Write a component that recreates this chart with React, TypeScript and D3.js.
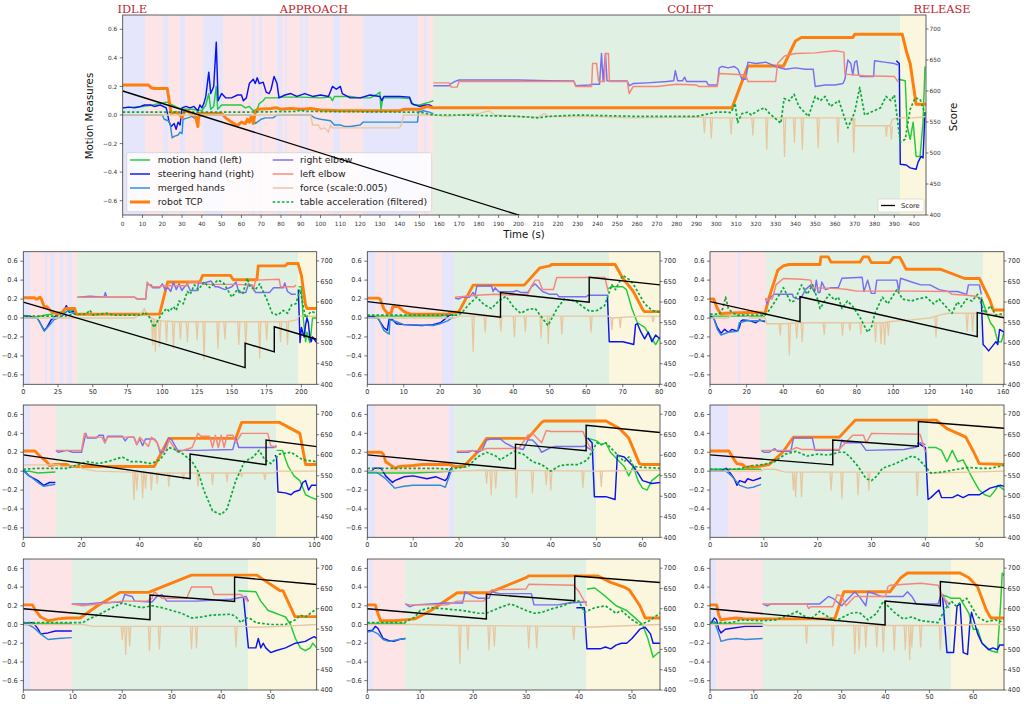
import React from 'react';
import * as d3 from 'd3';

// ---------------- shared definitions ----------------
const PHASE_NAMES = ['IDLE', 'APPROACH', 'COLIFT', 'RELEASE'];
const PHASE_COLORS = ['#e5e5fb', '#fde4e6', '#e0f0e3', '#faf7de'];
const SERIES_LABELS = ['motion hand (left)', 'steering hand (right)', 'merged hands', 'robot TCP', 'right elbow', 'left elbow', 'force (scale:0.005)', 'table acceleration (filtered)'];
const Y_TICKS = [-0.6, -0.4, -0.2, 0, 0.2, 0.4, 0.6];
const SCORE_TICKS = [400, 450, 500, 550, 600, 650, 700];
const Y_DOMAIN = [-0.7, 0.7];
const SCORE_DOMAIN = [400, 722.5];

// ---------------- main panel (full session) ----------------
const P0_XMAX = 406;
const P0_XTICKS = d3.range(0, 401, 10);
const P0_PHASES = [[0,11.3,0],[11.3,20.5,1],[20.5,22.7,0],[22.7,28.9,1],[28.9,31.5,0],[31.5,40.4,1],[40.4,50.5,0],[50.5,65.1,1],[65.1,66.8,0],[66.8,69,1],[69,70.2,0],[70.2,77.8,1],[77.8,80.3,0],[80.3,82,1],[82,83,0],[83,89.5,1],[89.5,90.9,0],[90.9,92,1],[92,93.7,0],[93.7,106.4,1],[106.4,109.7,0],[109.7,121.5,1],[121.5,149.3,0],[149.3,152.2,1],[152.2,153.8,0],[153.8,156.6,1],[156.6,393,2],[393,406,3]];
const P0_MOTION = [0,0.05, 5,0.055, 10,0.06, 15,0.07, 20,0.085, 23,0.09, 25,0.07, 28,0.05, 30,0.04, 35,0.04, 40,0.03, 42,0.07, 43.5,0.15, 44.5,0.04, 46,0.06, 47.3,0.2, 48,0.04, 50,0.07, 55,0.07, 60,0.07, 62,0.05, 64,0.06, 66,0.03, 68,0.04, 69,0.08, 71,0.1, 72,0.12, 78,0.12, 80,0.125, 90,0.125, 100,0.12, 105,0.125, 106,0.1, 107,0.13, 115,0.13, 120,0.12, 125,0.12, 128,0.14, 130,0.16, 130.5,0.04, 131.5,0.12, 140,0.12, 145,0.115, 147,0.07, 150,0.07, 155,0.09, 157,0.1, NaN,NaN, 392,0.25, 395.5,0.24, 396.5,-0.08, 398,-0.17, 399.5,-0.05, 401,-0.29, 403,-0.29, 404.5,-0.05, 405.5,0.34];
const P0_STEER = [0,0.05, 3,0.055, 6,0.05, 9,0.06, 11,0.07, 14,0.07, 16,0.06, 19,0.07, 22,0.05, 23.5,-0.05, 24.5,-0.08, 26,-0.06, 27,-0.1, 28,-0.05, 29,-0.07, 30,0.05, 32,0.06, 34,0.05, 36,0.06, 38,0.03, 39,0.07, 40,0.05, 41,0.08, 42,0.13, 43.5,0.3, 44.5,0.15, 46,0.2, 47.3,0.51, 48.2,0.1, 50,0.15, 52,0.12, 55,0.12, 58,0.14, 60,0.14, 61,0.1, 62.5,0.12, 64,0.22, 66,0.25, 67,0.22, 68,0.26, 69,0.22, 71,0.23, 72.5,0.16, 74,0.15, 75,0.18, 76.5,0.27, 78,0.22, 79,0.12, 82,0.14, 85,0.15, 88,0.13, 92,0.15, 96,0.13, 100,0.14, 104,0.13, 106,0.2, 108,0.18, 110,0.2, 111,0.15, 115,0.12, 120,0.12, 125,0.14, 130,0.13, 131,0.1, 132,0.13, 140,0.13, 145,0.125, 146,0.08, 150,0.06, 153,0.07, 155,0.07, 156.5,0.06, NaN,NaN, 391,0.38, 392.5,0.36, 393,-0.345, 396,-0.35, 398,-0.37, 401,-0.38, 402,-0.33, 403.5,-0.29, 404.5,-0.3, 405.5,0.02];
const P0_MERGED = [0,0.0, 20,0.0, 21,-0.03, 23,-0.04, 24,-0.06, 25,-0.16, 26,-0.15, 28,-0.14, 29,-0.12, 30,-0.13, 30.5,-0.03, 33,-0.02, 35,-0.01, 37,-0.03, 38,-0.02, 40,0.0, 65,0.0, 66,-0.02, 67,-0.06, 68,-0.05, 70,-0.03, 72,-0.02, 76,-0.02, 78,0.0, 95,0.0, 97,-0.02, 100,-0.03, 105,-0.04, 107,-0.07, 110,-0.07, 112,-0.08, 115,-0.08, 120,-0.07, 121.5,-0.05, 149,-0.05, 149.5,0.02, 152,0.03, 155,0.02, 157,0.01];
const P0_TCP = [0,0.21, 13,0.21, 14.5,0.19, 16,0.185, 22.5,0.185, 23.5,0.1, 24.5,0.01, 27,0.02, 29,0.0, 30,-0.02, 31,0.02, 33,0.03, 35,0.0, 36,0.01, 37,-0.02, 38,-0.08, 38.5,0.01, 40,0.01, 50,0.01, 52,-0.02, 55,-0.05, 58,-0.075, 60,-0.05, 62,-0.06, 63,-0.03, 64,-0.05, 65,-0.01, 66,-0.06, 67,0.02, 68,0.04, 75,0.045, 78,0.05, 80,0.04, 85,0.045, 90,0.04, 95,0.045, 100,0.035, 110,0.03, 140,0.03, 142,0.04, 150,0.04, 154,0.06, 157,0.05, 308,0.05, 316,0.343, 334,0.343, 340,0.518, 343,0.542, 369,0.542, 370,0.565, 394,0.565, 396,0.45, 398,0.36, 401,0.075, 406,0.075];
const P0_RELBOW = [157,0.205, 165,0.205, 166,0.22, 168,0.235, 170,0.245, 200,0.245, 215,0.24, 228,0.238, 229,0.205, 236,0.21, 237,0.215, 241,0.215, 242,0.43, 242.8,0.24, 244,0.43, 244.8,0.24, 255,0.238, 256,0.205, 258,0.22, 265,0.225, 275,0.235, 278.5,0.24, 279.3,0.31, 280.5,0.24, 283,0.24, 284,0.265, 285,0.235, 295,0.235, 296,0.21, 300.5,0.21, 301.5,0.33, 303,0.34, 306,0.33, 309,0.34, 311,0.32, 313,0.25, 315,0.25, 316,0.37, 320,0.36, 325,0.37, 330,0.34, 335,0.32, 340,0.33, 345,0.32, 349,0.32, 350,0.2, 355,0.21, 360,0.21, 364,0.22, 365,0.25, 366.5,0.385, 368,0.36, 369,0.28, 370,0.37, 371,0.38, 372,0.28, 373,0.27, 379.5,0.27, 380,0.38, 385,0.37, 390,0.36, 392,0.35];
const P0_LELBOW = [157,0.225, 165,0.225, 166,0.195, 169,0.195, 170,0.235, 200,0.235, 228,0.235, 229,0.2, 237,0.2, 237.5,0.36, 239.5,0.36, 240.5,0.235, 243.5,0.235, 244,0.43, 245.5,0.43, 246,0.235, 255,0.235, 256,0.15, 258,0.2, 270,0.2, 280,0.215, 290,0.21, 291,0.2, 300.5,0.2, 301.5,0.29, 315,0.28, 316,0.235, 330,0.235, 331,0.36, 334.5,0.413, 340,0.43, 350,0.435, 360,0.45, 364.5,0.44, 365,0.286, 375,0.275, 390,0.27, 392,0.23];
const P0_FORCE = [0,0.0, 95,0.0, 96,-0.07, 99,-0.07, 100,-0.1, 102,-0.09, 104,-0.12, 105,-0.07, 106,-0.09, 140,-0.09, 141,-0.06, 142,0.0, 157,0.0, 165,-0.01, 170,0.0, 180,0.01, 185,0.03, 188,0.0, 200,-0.01, 210,-0.015, 213,0.01, 215,-0.01, 240,-0.01, 256,-0.02, 290,-0.015, 300,-0.02, 369,-0.02, 370,-0.075, 388,-0.075, 389,-0.03, 392,-0.02, 400,-0.02, 406,-0.01];
const P0_SPIKES = [[294,-0.02,-0.124],[297.5,-0.02,-0.16],[307.5,-0.02,-0.135],[318.5,-0.02,-0.14],[325.5,-0.02,-0.24],[334.5,-0.02,-0.29],[339.5,-0.02,-0.19],[343.5,-0.02,-0.24],[351.5,-0.02,-0.23],[361.5,-0.02,-0.19],[369.5,-0.02,-0.26],[386,-0.075,-0.15],[388.5,-0.075,-0.17]];
const P0_ACCEL = [0,0.02, 20,0.02, 40,0.02, 60,0.02, 88,0.025, 90,0.035, 92,0.025, 150,0.02, 157,0.0, 170,0.0, 200,-0.01, 210,-0.02, 215,-0.01, 230,0.0, 260,-0.01, 290,-0.01, 300,0.02, 305,0.02, 307.5,0.017, 309.5,0.082, 310.8,-0.054, 313,0.01, 316,0.02, 317.7,0.0, 321,0.03, 324.4,0.05, 327,0.01, 332.6,-0.058, 334.3,0.115, 337,0.1, 339.3,0.145, 341.8,0.06, 346.6,-0.01, 350,0.13, 352.6,0.1, 355,0.13, 357.6,0.06, 362,0.1, 366.5,-0.09, 369.9,0.017, 372.5,0.193, 375,0.0, 377.7,0.017, 383,0.05, 385.8,0.13, 388.3,0.1, 390,0.14, 393,-0.19, 395.5,-0.17, 398,0.04, 400.5,0.12, 403,0.11, 406,-0.01];
const P0_SCORE = [0,600, 406,194];

// ---------------- trial 1 ----------------
const P1_XMAX = 211;
const P1_XTICKS = [0,25,50,75,100,125,150,175,200];
const P1_PHASES = [[0,4.8,0],[4.8,15.6,1],[15.6,16.8,0],[16.8,19.2,1],[19.2,22.8,0],[22.8,26.4,1],[26.4,28.8,0],[28.8,31.2,1],[31.2,34.8,0],[34.8,38.9,1],[38.9,197.6,2],[197.6,211,3]];
const P1_SCORE = [0,600, 159.5,440.5, 159.5,500, 180.5,479, 180.5,540, 211,509.5];
const P1_TCP = [0,0.214, 8,0.214, 9,0.2, 10,0.2, 12,0.22, 13,0.2, 15,0.12, 17,0.12, 20,0.07, 25,0.04, 28,0.06, 30,0.1, 37,0.1, 38,0.04, 98,0.042, 103.8,0.38, 127,0.38, 129,0.45, 148.9,0.45, 151,0.404, 168,0.404, 169,0.55, 188.5,0.55, 190,0.575, 197.6,0.575, 200,0.45, 202.9,0.14, 204,0.1, 211,0.1];
const P1_MOTION = [0,0.03, 5,0.01, 10,0.01, 15,0.03, 20,0.04, 25,0.06, 30,0.06, 33,0.08, 37,0.08, 38,0.07, NaN,NaN, 198,0.33, 200,0.33, 201,0.05, 203,-0.25, 204,-0.15, 206,-0.26, 207,-0.15, 208,0.0, 211,0.0];
const P1_STEER = [0,0.02, 5,0.02, 7,0.0, 10,0.0, 12,-0.05, 15,-0.13, 17,-0.1, 20,-0.02, 24,0.03, 28,0.05, 31,0.13, 33,0.06, 36,0.07, 38,0.05, NaN,NaN, 197.8,0.3, 199,-0.26, 200,-0.1, 202,-0.2, 203,-0.07, 204,0.0, 205,-0.05, 206,-0.2, 207,-0.25, 208,-0.2, 210,-0.24, 211,-0.26];
const P1_MERGED = [0,0.0, 10,0.0, 12,-0.05, 15,-0.14, 18,-0.09, 22,-0.02, 28,0.02, 32,0.08, 36,0.05, 38,0.05];
const P1_RELBOW = [38.9,0.22, 48,0.23, 58,0.22, 59,0.27, 60,0.22, 80,0.22, 82,0.2, 88,0.2, 89,0.35, 92,0.35, 93,0.32, 98,0.32, 100,0.36, 102,0.3, 104,0.32, 106,0.28, 108,0.38, 110,0.3, 112,0.36, 114,0.29, 116,0.33, 118,0.36, 120,0.29, 125,0.29, 126,0.37, 130,0.37, 135,0.39, 138,0.33, 140,0.33, 145,0.3, 150,0.33, 153,0.38, 155,0.27, 160,0.27, 162,0.36, 165,0.33, 167,0.27, 177,0.27, 180,0.32, 187,0.32, 188,0.37, 190,0.28, 193,0.25, 196,0.25];
const P1_LELBOW = [38.9,0.22, 80,0.22, 82,0.2, 88,0.2, 89,0.38, 92,0.33, 98,0.33, 100,0.34, 118,0.34, 119,0.38, 128,0.38, 129,0.355, 150,0.355, 165,0.35, 165.5,0.29, 167,0.4, 184,0.41, 185,0.33, 195,0.33, 196,0.35];
const P1_FORCE = [0,0.0, 80,0.0, 85,0.05, 87,0.1, 89,0.03, 92,0.0, 95,-0.02, 100,-0.03, 110,-0.04, 190,-0.04, 197,-0.02, 198,0.02, 211,0.02];
const P1_SPIKES = [[93,0,-0.28],[95,-0.02,-0.35],[98,-0.03,-0.3],[103,-0.03,-0.25],[108,-0.04,-0.32],[113,-0.04,-0.22],[118,-0.04,-0.25],[125,-0.04,-0.23],[130,-0.04,-0.44],[140,-0.04,-0.32],[145,-0.04,-0.22],[155,-0.04,-0.28],[160,-0.04,-0.32],[170,-0.04,-0.42],[175,-0.04,-0.23],[185,-0.04,-0.25],[190,-0.04,-0.28]];
const P1_ACCEL = [0,0.02, 30,0.02, 35,0.04, 45,0.04, 48,0.084, 50,0.03, 60,0.05, 65,0.03, 85,0.03, 87,0.06, 90,0.03, 94,-0.1, 97,-0.02, 100,0.05, 103,0.1, 105,0.07, 108,0.12, 110,0.08, 112,0.18, 115,0.15, 118,0.28, 120,0.25, 123,0.35, 126,0.3, 130,0.38, 134,0.32, 140,0.4, 144,0.37, 150,0.22, 154,0.3, 158,0.26, 161,0.42, 163,0.33, 167,0.3, 170,0.36, 175,0.2, 179,0.05, 183,0.03, 187,0.08, 190,0.05, 193,0.14, 196,0.15, 199,0.3, 203,0.0, 207,0.07, 211,0.05];

// ---------------- trial 2 ----------------
const P2_XMAX = 80.2;
const P2_XTICKS = [0,10,20,30,40,50,60,70,80];
const P2_PHASES = [[0,2.1,0],[2.1,5.1,1],[5.1,5.75,0],[5.75,6.7,1],[6.7,7.6,0],[7.6,20.6,1],[20.6,23.8,0],[23.8,66.3,2],[66.3,80.2,3]];
const P2_SCORE = [0,601, 36.5,563, 36.5,623, 60.8,599.5, 60.8,660, 80.2,641.7];
const P2_TCP = [0,0.21, 3,0.21, 3.5,0.2, 4.5,0.1, 5.5,0.05, 6.5,0.05, 7,0.12, 8.5,0.12, 10,0.07, 11,0.05, 12,0.04, 22,0.04, 23,0.06, 25,0.06, 29,0.347, 43,0.347, 47.3,0.53, 50,0.55, 50.5,0.565, 67.9,0.565, 70,0.42, 72.9,0.28, 75.6,0.08, 76,0.067, 80.2,0.067];
const P2_MOTION = [0,0.02, 10,0.02, 20,0.02, 22,0.03, 24,0.03, NaN,NaN, 66,0.31, 67,0.33, 70,0.33, 71,0.3, 72.5,0.1, 74,-0.05, 76,-0.1, 78,-0.22, 79,-0.28, 80.2,-0.2];
const P2_STEER = [0,0.01, 2,0.01, 3,-0.01, 4.5,-0.1, 5.5,-0.13, 6,-0.01, 7,-0.02, 8,-0.06, 10,-0.07, 15,-0.08, 18,-0.07, 20,-0.05, 21,-0.02, 22.5,0.03, 23.5,0.03, NaN,NaN, 65.8,0.22, 66.3,-0.25, 70,-0.25, 72,-0.27, 73,-0.28, 73.5,-0.07, 74,-0.06, 75,-0.15, 76,-0.22, 77,-0.15, 78,-0.25, 79,-0.18, 80.2,-0.22];
const P2_MERGED = [0,0.0, 3,0.0, 4.5,-0.13, 6,-0.17, 6.2,-0.02, 8,-0.04, 10,-0.07, 15,-0.075, 18,-0.08, 20,-0.06, 22,-0.03, 23.5,0.01];
const P2_RELBOW = [24,0.21, 25,0.2, 26,0.22, 28,0.22, 29,0.27, 29.5,0.23, 30,0.337, 34,0.34, 34.5,0.28, 35,0.32, 36,0.277, 40,0.277, 41,0.29, 42,0.27, 44,0.27, 45,0.33, 46,0.36, 47,0.32, 48,0.28, 50,0.25, 52,0.25, 52.5,0.225, 60,0.225, 60.5,0.24, 66,0.24];
const P2_LELBOW = [24,0.22, 30,0.24, 35,0.25, 40,0.24, 44,0.25, 45,0.34, 46,0.4, 47,0.4, 48,0.3, 51,0.3, 51.9,0.428, 65.1,0.428, 66,0.28];
const P2_FORCE = [0,0.0, 24,0.0, 25,0.02, 66,0.02, 67,0.0, 75,0.02, 80.2,0.02];
const P2_SPIKES = [[29,0.02,-0.35],[32.3,0.02,-0.15],[36.6,0.02,-0.14],[40.3,0.02,-0.2],[43.3,0.02,-0.14],[47.6,0.02,-0.21],[49.6,0.02,-0.27],[53.3,0.02,-0.17],[61.3,0.02,-0.15],[67,0.0,-0.12],[69.3,0.0,-0.1],[78.3,0.02,-0.04]];
const P2_ACCEL = [0,0.03, 25,0.03, 26,0.06, 28,0.15, 30,0.22, 32,0.14, 34,0.1, 36,0.18, 38,0.23, 40,0.12, 42,0.05, 44,0.09, 46,0.1, 49.5,-0.08, 52,0.1, 54,0.2, 57,0.18, 59,0.12, 61,0.07, 63,0.08, 65,0.13, 67,0.35, 68,0.3, 70,0.45, 72,0.4, 73,0.35, 76,0.15, 78,0.08, 80.2,0.06];

// ---------------- trial 3 ----------------
const P3_XMAX = 160.4;
const P3_XTICKS = [0,20,40,60,80,100,120,140,160];
const P3_PHASES = [[0,15.5,1],[15.5,16.4,0],[16.4,30.5,1],[30.5,148.7,2],[148.7,160.4,3]];
const P3_SCORE = [0,601, 49.1,552.5, 49.1,613, 145.8,516, 145.8,574.4, 160.4,562];
const P3_TCP = [0,0.2, 2,0.2, 3,0.15, 4,0.1, 6,0.04, 8,0.05, 25,0.06, 30,0.05, 32,0.2, 37,0.505, 40,0.55, 43,0.565, 60,0.565, 60.5,0.645, 64.5,0.645, 66,0.59, 81.8,0.59, 83.6,0.645, 86.4,0.645, 88,0.585, 98,0.585, 100,0.64, 103.6,0.64, 107,0.515, 125.5,0.515, 139,0.417, 147,0.417, 152.7,0.19, 154.5,0.084, 160.4,0.084];
const P3_MOTION = [0,0.02, 30,0.02, NaN,NaN, 148,0.22, 151,0.05, 153,-0.05, 155,-0.1, 157,-0.25, 159,-0.25, 160.4,-0.15];
const P3_STEER = [0,0.02, 2,0.0, 4,-0.1, 6,-0.16, 8,-0.12, 10,-0.15, 12,-0.12, 15,-0.14, 16,-0.1, 17,-0.03, 18,-0.02, 22,-0.03, 25,-0.05, 27,-0.02, 30,-0.04, NaN,NaN, 148,0.2, 149,-0.28, 150,-0.3, 152,-0.347, 154,-0.3, 156,-0.25, 157,-0.28, 158,-0.12, 160.4,-0.15];
const P3_MERGED = [0,0.0, 2,0.0, 4,-0.12, 6,-0.18, 10,-0.15, 15,-0.14, 16,-0.05, 20,-0.03, 30,-0.03];
const P3_RELBOW = [30.5,0.21, 31,0.15, 32,0.2, 35,0.25, 45,0.25, 45.5,0.22, 48,0.2, 50,0.22, 52,0.3, 55,0.35, 57,0.27, 58,0.4, 59,0.27, 60,0.27, 61,0.38, 63,0.3, 66,0.32, 70,0.32, 72,0.42, 83,0.43, 84,0.28, 86,0.4, 88,0.26, 90,0.26, 91,0.4, 102,0.4, 103,0.28, 104,0.42, 110,0.38, 115,0.35, 120,0.35, 125,0.3, 130,0.28, 135,0.28, 140,0.25, 141,0.35, 147,0.35, 148,0.25];
const P3_LELBOW = [30.5,0.21, 31,0.18, 32,0.2, 34,0.2, 36,0.35, 40,0.417, 50,0.41, 55,0.4, 56,0.32, 70,0.31, 75,0.3, 80,0.284, 110,0.284, 130,0.28, 132,0.25, 140,0.24, 145,0.23, 148,0.2];
const P3_FORCE = [0,0.0, 10,0.0, 12,0.04, 20,0.03, 22,0.0, 30,0.0, 31,-0.06, 40,-0.06, 50,-0.05, 95,-0.05, 97,-0.04, 110,-0.02, 120,0.0, 125,0.03, 130,0.05, 150,0.05, 155,0.04, 160.4,0.02];
const P3_SPIKES = [[38.3,-0.06,-0.18],[43.3,-0.06,-0.39],[47.3,-0.06,-0.21],[50.3,-0.05,-0.25],[62.3,-0.05,-0.17],[72.3,-0.05,-0.18],[76.3,-0.05,-0.13],[82.3,-0.05,-0.17],[90.3,-0.05,-0.25],[93.3,-0.05,-0.27],[95.3,-0.05,-0.28],[97.3,-0.04,-0.18],[123.3,0.02,-0.2],[140.3,0.05,-0.14],[143.3,0.05,-0.14]];
const P3_ACCEL = [0,0.04, 5,0.04, 7,0.1, 8.5,0.22, 10,0.1, 12,0.06, 15,0.03, 30,0.03, 33,0.1, 38,0.25, 40,0.32, 44,0.17, 46,0.18, 50,0.35, 53,0.25, 56,0.35, 59,0.18, 60,0.1, 65,0.25, 68,0.19, 70,0.22, 72,0.1, 75,0.18, 78,0.12, 82,0.0, 86,-0.15, 88,-0.1, 90,0.05, 94,0.22, 97,0.15, 102,0.3, 105,0.2, 110,0.18, 113,0.2, 118,0.22, 122,0.15, 125,0.2, 132,0.05, 135,0.17, 137,0.12, 140,0.2, 143,0.18, 146,0.25, 148,0.15, 150,0.05, 153,0.13, 156,0.03, 160.4,0.05];

// ---------------- trial 4 ----------------
const P4_XMAX = 100.8;
const P4_XTICKS = [0,20,40,60,80,100];
const P4_PHASES = [[0,2.3,0],[2.3,11.2,1],[11.2,86.8,2],[86.8,100.8,3]];
const P4_SCORE = [0,601, 57.3,542.7, 57.3,603, 83.4,577, 83.4,637, 100.8,621];
const P4_TCP = [0,0.214, 4,0.214, 6,0.15, 8,0.1, 9,0.06, 11,0.07, 15,0.07, 16,0.05, 45,0.05, 50,0.347, 73,0.347, 75,0.516, 88,0.516, 92,0.45, 95,0.4, 97,0.07, 100.8,0.07];
const P4_MOTION = [0,0.0, 2,0.0, 5,-0.02, 11,-0.01, NaN,NaN, 87,0.22, 89,0.22, 91,0.05, 93,-0.05, 95,-0.1, 97,-0.25, 99,-0.28, 100.8,-0.3];
const P4_STEER = [0,0.01, 2,-0.05, 5,-0.1, 7,-0.15, 9,-0.12, 11,-0.12, NaN,NaN, 86.5,0.17, 87,0.15, 87.5,-0.22, 90,-0.23, 92,-0.25, 93,-0.22, 95,-0.2, 96,-0.12, 97,-0.1, 98,-0.2, 99,-0.15, 100.8,-0.15];
const P4_MERGED = [0,0.0, 3,-0.07, 5,-0.12, 7,-0.16, 9,-0.15, 11,-0.14];
const P4_RELBOW = [11.2,0.22, 12,0.2, 15,0.22, 17,0.2, 20,0.2, 21.5,0.4, 22,0.35, 25,0.35, 26,0.38, 27.5,0.38, 28,0.3, 29,0.37, 34,0.37, 35,0.32, 36,0.36, 38,0.36, 39,0.28, 40,0.34, 41,0.27, 42,0.34, 45,0.34, 46,0.3, 47,0.2, 48,0.2, 50,0.35, 51,0.33, 53,0.22, 60,0.22, 72,0.23, 73,0.35, 74,0.25, 86,0.25, 87,0.27];
const P4_LELBOW = [11.2,0.22, 20,0.22, 21,0.4, 22,0.36, 27,0.36, 28,0.3, 29,0.36, 38,0.36, 39,0.28, 40,0.36, 43,0.26, 44,0.36, 46,0.3, 47,0.22, 49,0.22, 50,0.33, 53,0.2, 58,0.25, 60,0.4, 61,0.37, 64,0.37, 65,0.25, 66,0.38, 67,0.25, 68,0.38, 69,0.25, 70,0.38, 72,0.38, 73,0.3, 75,0.4, 84,0.4, 85,0.27, 87,0.25];
const P4_FORCE = [0,0.066, 12,0.066, 13,0.05, 18,0.05, 19,0.1, 20,0.03, 25,0.0, 37,-0.01, 45,-0.02, 86,-0.02, 87,0.0, 100.8,0.0];
const P4_SPIKES = [[38,-0.01,-0.3],[39,-0.01,-0.2],[41,-0.01,-0.28],[42,-0.01,-0.18],[44,-0.01,-0.2],[46,-0.02,-0.13],[50,-0.02,-0.16],[55,-0.02,-0.09],[60,-0.02,-0.16],[65,-0.02,-0.14],[70,-0.02,-0.11],[75,-0.02,-0.06],[83,-0.02,-0.09]];
const P4_ACCEL = [0,0.02, 5,0.03, 15,0.03, 18,0.06, 22,0.1, 26,0.08, 30,0.11, 34,0.15, 37,0.1, 40,0.1, 44,0.08, 47,0.12, 50,0.25, 52,0.23, 55,0.18, 58,0.1, 60,0.0, 62,-0.2, 65,-0.42, 68,-0.46, 70,-0.4, 73,-0.1, 76,0.1, 79,0.15, 81,0.22, 83,0.12, 85,0.08, 88,0.18, 92,0.2, 96,0.12, 100.8,0.1];

// ---------------- trial 5 ----------------
const P5_XMAX = 63.8;
const P5_XTICKS = [0,10,20,30,40,50,60];
const P5_PHASES = [[0,1.7,0],[1.7,17.8,1],[17.8,18.9,0],[18.9,49.9,2],[49.9,63.8,3]];
const P5_SCORE = [0,601, 32.3,567, 32.3,627, 47.7,611, 47.7,673, 63.8,655.6];
const P5_TCP = [0,0.2, 3,0.2, 3.5,0.18, 4,0.1, 5.5,0.05, 6,0.03, 7,0.05, 10,0.06, 12,0.07, 18,0.07, 19,0.05, 21,0.05, 24,0.2, 26,0.347, 35,0.347, 38,0.516, 38.5,0.53, 52,0.53, 55,0.45, 57,0.35, 59.3,0.08, 60,0.07, 63.8,0.07];
const P5_MOTION = [0,-0.02, 10,-0.02, 15,-0.01, 19,0.0, NaN,NaN, 48,0.35, 50,0.32, 51,0.28, 52,0.3, 53,0.2, 55,0.1, 56,0.05, 57,-0.05, 58,0.05, 59,-0.1, 60,-0.18, 61,-0.2, 62,-0.1, 63.8,-0.03];
const P5_STEER = [0,0.0, 1,0.0, 1.5,0.03, 3,0.03, 4,-0.05, 5.5,-0.12, 6,-0.1, 7,-0.08, 8,-0.06, 10,-0.05, 13,-0.08, 15,-0.06, 17,-0.1, 17.5,-0.07, 18,0.01, 18.5,0.04, NaN,NaN, 48,0.35, 49,0.3, 49.5,-0.27, 52,-0.27, 54,-0.3, 54.5,0.17, 56,0.15, 57,0.1, 58,0.05, 59,-0.02, 60,-0.1, 62,-0.13, 63.8,-0.12];
const P5_MERGED = [0,-0.01, 2,-0.01, 4,-0.08, 6,-0.18, 8,-0.16, 10,-0.15, 16,-0.15, 17,-0.17, 18.5,0.03];
const P5_RELBOW = [19.5,0.2, 22,0.2, 23,0.22, 24,0.2, 25,0.22, 26,0.33, 27,0.34, 29,0.34, 30,0.3, 32,0.25, 34,0.23, 35,0.33, 36,0.33, 37,0.28, 38,0.2, 40,0.25, 41,0.26, 47,0.26, 47.5,0.27, 48,0.25, 49,0.22];
const P5_LELBOW = [19.5,0.21, 25,0.22, 26,0.24, 32,0.24, 33,0.24, 35,0.38, 36,0.4, 38,0.3, 39,0.43, 40,0.42, 47,0.42, 48,0.3, 49,0.22];
const P5_FORCE = [0,0.0, 19,0.0, 25,0.01, 50,0.0, 63.8,0.01];
const P5_SPIKES = [[26,0,-0.13],[27,0,-0.25],[28,0,-0.18],[32.5,0,-0.28],[36,0,-0.23],[39,0,-0.14],[40,0,-0.2],[47,0,-0.17],[51,0,-0.16]];
const P5_ACCEL = [0,0.03, 15,0.03, 18,0.02, 22,0.05, 24,0.15, 26,0.2, 28,0.16, 29,0.12, 31,0.18, 32,0.21, 34,0.18, 36,0.1, 38,0.07, 40,0.0, 42,0.06, 44,0.07, 46,0.07, 48,0.12, 50,0.3, 51,0.28, 52,0.3, 54,0.2, 56,0.1, 57,0.15, 58,0.05, 60,0.04, 63.8,0.03];

// ---------------- trial 6 ----------------
const P6_XMAX = 54.6;
const P6_XTICKS = [0,10,20,30,40,50];
const P6_PHASES = [[0,3.3,0],[3.3,9.3,1],[9.3,40.5,2],[40.5,54.6,3]];
const P6_SCORE = [0,601, 22.8,576.6, 22.8,637, 38.7,621.8, 38.7,682, 54.6,666];
const P6_TCP = [0,0.214, 3.5,0.214, 4.5,0.12, 5,0.08, 6,0.07, 7,0.03, 7.5,0.05, 8,0.04, 10,0.06, 11,0.07, 13.5,0.2, 15.5,0.36, 24,0.36, 25.5,0.45, 27,0.54, 42,0.54, 44,0.45, 46,0.4, 47.5,0.36, 49,0.2, 50,0.08, 54.6,0.07];
const P6_MOTION = [0,0.02, 9.5,0.02, NaN,NaN, 40.5,0.25, 42,0.25, 43,0.22, 44,0.1, 45,0.22, 46,0.1, 47,0.12, 48.5,-0.05, 50,-0.2, 51,-0.25, 52,-0.27, 53,-0.2, 53.5,-0.15, 54.6,-0.2];
const P6_STEER = [0,0.0, 2,0.0, 3,0.03, 3.5,0.0, 4.5,-0.08, 5,-0.15, 5.5,-0.1, 6.5,-0.12, 7,-0.08, 8,-0.1, 9.5,-0.07, NaN,NaN, 38.5,0.3, 40,0.25, 40.5,-0.3, 41,-0.28, 42.5,-0.2, 43,-0.28, 45,-0.28, 46,-0.25, 47,-0.28, 48,-0.25, 50,-0.25, 52,-0.18, 54,-0.15, 54.6,-0.16];
const P6_MERGED = [0,0.0, 3,0.0, 4,-0.05, 5.5,-0.15, 7,-0.18, 8,-0.17, 9.5,-0.14];
const P6_RELBOW = [9.5,0.22, 10,0.2, 11,0.2, 12,0.24, 12.5,0.21, 15,0.21, 15.5,0.35, 19,0.35, 19.5,0.22, 24,0.22, 24.5,0.33, 25,0.3, 28,0.3, 29,0.22, 36,0.23, 38,0.25, 38.5,0.26, 39,0.3, 40,0.28];
const P6_LELBOW = [9.5,0.22, 15,0.22, 16,0.25, 17,0.23, 24,0.23, 24.5,0.26, 26.5,0.38, 28.5,0.38, 29,0.3, 30,0.4, 39,0.39, 39.5,0.3, 40,0.2];
const P6_FORCE = [0,0.0, 9.5,0.0, 10,0.02, 12,0.02, 14,-0.01, 40,-0.01, 41,-0.02, 48,-0.01, 54.6,0.0];
const P6_SPIKES = [[15.5,-0.01,-0.2],[15.9,-0.01,-0.27],[17,-0.01,-0.27],[22.5,-0.01,-0.2],[24.5,-0.01,-0.29],[27.5,-0.01,-0.25],[29.5,-0.01,-0.2],[38.5,-0.01,-0.26]];
const P6_ACCEL = [0,0.02, 5,0.02, 8,0.06, 10,0.07, 12,0.1, 14,0.18, 16,0.21, 18,0.16, 20,0.18, 22,0.17, 24,0.2, 25,0.2, 26,0.15, 27.5,0.05, 29,-0.08, 30,-0.1, 31,-0.05, 32,0.03, 34,0.07, 36,0.12, 37.5,0.16, 38.5,0.14, 40,0.05, 41,-0.02, 43,-0.01, 46,0.02, 48,0.04, 50,0.03, 52,0.03, 54.6,0.06];

// ---------------- trial 7 ----------------
const P7_XMAX = 59.3;
const P7_XTICKS = [0,10,20,30,40,50];
const P7_PHASES = [[0,1.35,0],[1.35,9.8,1],[9.8,45.4,2],[45.4,59.3,3]];
const P7_SCORE = [0,600, 25.6,573, 25.6,634, 42.7,617.7, 42.7,678, 59.3,659.7];
const P7_TCP = [0,0.21, 1.8,0.21, 2.5,0.15, 3.5,0.08, 5,0.04, 6,0.05, 7,0.06, 9,0.07, 11.5,0.07, 15,0.2, 19.5,0.343, 25.3,0.343, 34,0.528, 47.2,0.528, 51.9,0.36, 52.5,0.36, 54.9,0.084, 59.3,0.084];
const P7_MOTION = [0,0.01, 9.8,0.01, NaN,NaN, 43.5,0.36, 47,0.35, 48,0.25, 49.5,0.15, 51,0.12, 52,0.1, 53,0.08, 54,0.0, 55,-0.15, 56,-0.25, 57,-0.28, 58,-0.25, 58.5,-0.2, 59.3,-0.25];
const P7_STEER = [0,0.0, 1,0.02, 2,0.02, 3,-0.05, 3.5,-0.1, 5,-0.09, 6.5,-0.07, 9.8,-0.07, NaN,NaN, 44.5,0.29, 45.5,-0.25, 47,-0.25, 47.5,-0.15, 48,-0.25, 48.5,-0.2, 49,-0.25, 50,-0.3, 51,-0.28, 53,-0.25, 55,-0.2, 57,-0.18, 58,-0.15, 58.8,-0.13, 59.3,-0.15];
const P7_MERGED = [0,0.0, 1,0.0, 2,-0.03, 3.5,-0.1, 5,-0.16, 7,-0.15, 9.8,-0.14];
const P7_RELBOW = [9.8,0.22, 13,0.22, 15,0.23, 20,0.24, 20.5,0.32, 22,0.3, 22.5,0.25, 26,0.24, 27,0.3, 28,0.32, 29,0.25, 35,0.25, 38,0.26, 42,0.27, 45,0.3, 45.5,0.25];
const P7_LELBOW = [9.8,0.22, 12,0.2, 15,0.22, 20,0.25, 25,0.25, 26,0.28, 26.5,0.35, 28,0.28, 33,0.28, 34,0.4, 38,0.4, 38.5,0.32, 44,0.32, 45.5,0.24];
const P7_FORCE = [0,0.0, 12,0.0, 14,-0.02, 45,-0.02, 46,-0.03, 52,-0.02, 59.3,0.0];
const P7_SPIKES = [[20,-0.02,-0.16],[20.7,-0.02,-0.32],[21.5,-0.02,-0.23],[25.5,-0.02,-0.28],[27.5,-0.02,-0.26],[34,-0.02,-0.26],[35,-0.02,-0.25],[43,-0.02,-0.24]];
const P7_ACCEL = [0,0.02, 12,0.02, 13,0.05, 15,0.1, 18,0.18, 20,0.23, 22,0.2, 24,0.18, 26,0.2, 28,0.18, 30,0.15, 32,0.12, 34,0.07, 36,0.08, 38,0.1, 42,0.11, 43,0.08, 44,0.02, 45,0.07, 46,0.06, 47,0.02, 50,0.0, 53,0.0, 55,0.05, 56,0.1, 57,0.08, 59.3,0.17];

// ---------------- trial 8 ----------------
const P8_XMAX = 55.3;
const P8_XTICKS = [0,10,20,30,40,50];
const P8_PHASES = [[0,1.1,0],[1.1,7.2,1],[7.2,41.3,2],[41.3,55.3,3]];
const P8_SCORE = [0,600, 22.5,575, 22.5,636, 39.2,620, 39.2,680.6, 55.3,664.5];
const P8_TCP = [0,0.21, 1.5,0.21, 2,0.12, 2.5,0.04, 5,0.04, 7,0.05, 9,0.06, 12,0.15, 17,0.34, 23,0.34, 30,0.5, 30.5,0.52, 43.5,0.52, 46,0.45, 48.5,0.4, 49.5,0.37, 51.5,0.2, 52.5,0.07, 55.3,0.07];
const P8_MOTION = [0,0.01, 7.2,0.01, NaN,NaN, 41.5,0.38, 43,0.39, 45,0.3, 46,0.25, 47,0.2, 49,0.15, 50,0.1, 52,0.0, 53,-0.15, 54,-0.35, 55,-0.3, 55.3,-0.3];
const P8_STEER = [0,-0.07, 1,-0.06, 1.5,-0.02, 2,-0.04, 3,-0.15, 4,-0.17, 5,-0.18, 6,-0.16, 7.2,-0.15, NaN,NaN, 39.5,0.18, 41,0.18, 41.5,-0.26, 44,-0.26, 45,-0.24, 46,-0.26, 47,-0.22, 48,-0.2, 49,-0.2, 50,-0.15, 51.5,-0.05, 52.5,-0.03, 53.5,-0.1, 54,-0.2, 55.3,-0.2];
const P8_MERGED = [0,-0.08, 1,-0.07, 2,-0.1, 3,-0.16, 4,-0.18, 5,-0.17, 7.2,-0.15];
const P8_RELBOW = [7.2,0.22, 8,0.19, 9,0.21, 12,0.22, 15,0.23, 18,0.23, 18.5,0.35, 20,0.3, 21,0.28, 23,0.28, 23.5,0.35, 25,0.33, 31,0.33, 31.5,0.21, 36,0.21, 38,0.23, 41,0.24, 41.5,0.24];
const P8_LELBOW = [7.2,0.22, 8,0.21, 15,0.21, 16,0.23, 17,0.25, 22,0.25, 23.5,0.37, 30,0.38, 30.5,0.43, 39,0.42, 40,0.35, 41.5,0.2];
const P8_FORCE = [0,0.0, 9,0.0, 17,-0.01, 40,-0.02, 41.5,-0.03, 50,-0.01, 55.3,0.0];
const P8_SPIKES = [[17.5,-0.01,-0.42],[19,-0.01,-0.27],[23,-0.02,-0.27],[24,-0.02,-0.23],[30.5,-0.02,-0.25],[32,-0.02,-0.25],[39,-0.02,-0.16]];
const P8_ACCEL = [0,0.02, 7,0.02, 9,0.08, 10,0.15, 12,0.18, 14,0.17, 18,0.15, 21,0.12, 22.5,0.12, 25,0.18, 27,0.22, 28,0.2, 30,0.15, 31.5,0.12, 33,0.13, 35,0.17, 37,0.2, 39,0.25, 40,0.25, 41,0.13, 43,0.18, 45,0.2, 47,0.12, 48,0.15, 49,0.1, 50,0.05, 51.5,0.0, 53,0.03, 55.3,0.12];

// ---------------- trial 9 ----------------
const P9_XMAX = 67;
const P9_XTICKS = [0,10,20,30,40,50,60];
const P9_PHASES = [[0,1.4,0],[1.4,12,1],[12,55,2],[55,67,3]];
const P9_SCORE = [0,600, 39.9,560, 39.9,619, 52.5,607, 52.5,667, 67,652];
const P9_TCP = [0,0.21, 1.5,0.21, 2,0.1, 2.5,0.05, 4,0.06, 6,0.07, 8,0.06, 28,0.06, 28.5,0.07, 30.5,0.35, 41,0.35, 43.5,0.5, 45,0.55, 57,0.55, 59,0.5, 61,0.4, 63,0.15, 64,0.07, 67,0.07];
const P9_MOTION = [0,0.01, 12,0.01, NaN,NaN, 52.5,0.32, 54,0.3, 55,0.28, 57,0.28, 58,0.2, 59,0.12, 60,-0.05, 61,-0.05, 62,-0.2, 64,-0.28, 65.5,-0.3, 66.2,0.2, 66.6,0.55, 67,0.52];
const P9_STEER = [0,0.0, 1,0.07, 1.5,0.05, 2,-0.05, 2.5,-0.09, 3.5,-0.05, 5,-0.04, 8,-0.02, 12,-0.02, NaN,NaN, 52.5,0.32, 53,0.3, 54,-0.3, 55.5,-0.3, 56.3,0.2, 57,0.22, 57.7,-0.3, 58.7,-0.32, 59.2,0.0, 59.6,0.13, 61,-0.1, 62,-0.2, 63.5,-0.27, 64.5,-0.25, 65.5,-0.27, 66,-0.22, 67,-0.22];
const P9_MERGED = [0,0.0, 1,0.03, 2,-0.1, 2.5,-0.18, 4,-0.16, 6,-0.15, 8,-0.16, 12,-0.15];
const P9_RELBOW = [12,0.22, 13,0.2, 14,0.22, 25,0.22, 27,0.3, 28,0.28, 30,0.2, 31,0.25, 33,0.35, 34,0.3, 35.5,0.2, 36,0.35, 38,0.32, 39,0.3, 44,0.3, 45,0.35, 46,0.3, 47,0.22, 52,0.22, 52.5,0.3, 53,0.32, 54,0.2, 54.5,0.18];
const P9_LELBOW = [12,0.22, 22,0.22, 22.5,0.17, 23,0.19, 28,0.19, 29,0.32, 30,0.3, 31,0.2, 32,0.25, 33,0.3, 40,0.3, 40.5,0.4, 41,0.42, 48,0.44, 52,0.42, 53,0.3, 54.5,0.22];
const P9_FORCE = [0,0.0, 12,0.0, 13,-0.01, 55,-0.01, 60,0.0, 67,0.0];
const P9_SPIKES = [[22,-0.01,-0.2],[28,-0.01,-0.23],[33,-0.01,-0.31],[34,-0.01,-0.27],[35.5,-0.01,-0.24],[38,-0.01,-0.24],[39.5,-0.01,-0.29],[42,-0.01,-0.27],[44.5,-0.01,-0.27],[45.5,-0.01,-0.375],[46,-0.01,-0.24],[48,-0.01,-0.24],[52.5,-0.01,-0.27]];
const P9_ACCEL = [0,0.02, 5,0.02, 7,0.05, 12,0.04, 15,0.05, 18,0.1, 20,0.14, 21,0.1, 23,0.06, 25,0.14, 27,0.08, 28.5,0.04, 30,0.07, 32,0.12, 34,0.13, 36,0.05, 38,0.12, 39.5,0.25, 40.5,0.2, 42,0.13, 44,0.06, 46,0.08, 48,0.04, 50,0.03, 52,0.02, 53.5,0.16, 55,0.25, 56,0.2, 57.5,0.25, 58.5,0.28, 59.5,0.2, 61,0.08, 63,0.03, 65,0.05, 66,0.03, 67,0.04];

// ---------------- assemble ----------------
const mk = (xMax, xTicks, phases, motion, steer, merged, tcp, relbow, lelbow, force, spikes, accel, score) =>
  ({ xMax, xTicks, phases, series: [motion, steer, merged, tcp, relbow, lelbow], force, spikes, accel, score });

const PANELS = [
  mk(P0_XMAX, P0_XTICKS, P0_PHASES, P0_MOTION, P0_STEER, P0_MERGED, P0_TCP, P0_RELBOW, P0_LELBOW, P0_FORCE, P0_SPIKES, P0_ACCEL, P0_SCORE),
  mk(P1_XMAX, P1_XTICKS, P1_PHASES, P1_MOTION, P1_STEER, P1_MERGED, P1_TCP, P1_RELBOW, P1_LELBOW, P1_FORCE, P1_SPIKES, P1_ACCEL, P1_SCORE),
  mk(P2_XMAX, P2_XTICKS, P2_PHASES, P2_MOTION, P2_STEER, P2_MERGED, P2_TCP, P2_RELBOW, P2_LELBOW, P2_FORCE, P2_SPIKES, P2_ACCEL, P2_SCORE),
  mk(P3_XMAX, P3_XTICKS, P3_PHASES, P3_MOTION, P3_STEER, P3_MERGED, P3_TCP, P3_RELBOW, P3_LELBOW, P3_FORCE, P3_SPIKES, P3_ACCEL, P3_SCORE),
  mk(P4_XMAX, P4_XTICKS, P4_PHASES, P4_MOTION, P4_STEER, P4_MERGED, P4_TCP, P4_RELBOW, P4_LELBOW, P4_FORCE, P4_SPIKES, P4_ACCEL, P4_SCORE),
  mk(P5_XMAX, P5_XTICKS, P5_PHASES, P5_MOTION, P5_STEER, P5_MERGED, P5_TCP, P5_RELBOW, P5_LELBOW, P5_FORCE, P5_SPIKES, P5_ACCEL, P5_SCORE),
  mk(P6_XMAX, P6_XTICKS, P6_PHASES, P6_MOTION, P6_STEER, P6_MERGED, P6_TCP, P6_RELBOW, P6_LELBOW, P6_FORCE, P6_SPIKES, P6_ACCEL, P6_SCORE),
  mk(P7_XMAX, P7_XTICKS, P7_PHASES, P7_MOTION, P7_STEER, P7_MERGED, P7_TCP, P7_RELBOW, P7_LELBOW, P7_FORCE, P7_SPIKES, P7_ACCEL, P7_SCORE),
  mk(P8_XMAX, P8_XTICKS, P8_PHASES, P8_MOTION, P8_STEER, P8_MERGED, P8_TCP, P8_RELBOW, P8_LELBOW, P8_FORCE, P8_SPIKES, P8_ACCEL, P8_SCORE),
  mk(P9_XMAX, P9_XTICKS, P9_PHASES, P9_MOTION, P9_STEER, P9_MERGED, P9_TCP, P9_RELBOW, P9_LELBOW, P9_FORCE, P9_SPIKES, P9_ACCEL, P9_SCORE),
];

// ---------------- styles & layout ----------------
const STYLE = [
  { color: '#1fcc3a', width: 1.45 },  // motion
  { color: '#0a14f0', width: 1.45 },  // steering
  { color: '#2b8fd6', width: 1.45 },  // merged
  { color: '#ff7f0e', width: 3 },     // TCP
  { color: '#7b6cf2', width: 1.45 },  // right elbow
  { color: '#f7857a', width: 1.45 },  // left elbow
  { color: '#e8c7a0', width: 1.45 },  // force
  { color: '#0aaa3a', width: 1.7, dash: '2.6,2' }, // accel
];
const FONT = 'DejaVu Sans, sans-serif';
const MAIN_BOX = { x0: 122.7, x1: 926, y0: 15, y1: 215 };
const COLS = [[23.3, 316.7], [367.3, 660], [710, 1004]];
const ROWS = [[251.7, 384.3], [405, 537.3], [559, 690]];

const pairs = (flat) => {
  const out = [];
  for (let i = 0; i < flat.length; i += 2) out.push([flat[i], flat[i + 1]]);
  return out;
};
const fmtY = (v) => (v < 0 ? '\u2212' : '') + Math.abs(v).toFixed(1);

function Panel({ p, box, idx, main }) {
  const x = d3.scaleLinear().domain([0, p.xMax]).range([box.x0, box.x1]);
  const y = d3.scaleLinear().domain(Y_DOMAIN).range([box.y1, box.y0]);
  const s = d3.scaleLinear().domain(SCORE_DOMAIN).range([box.y1, box.y0]);
  const line = d3.line().defined((d) => !isNaN(d[1])).x((d) => x(d[0])).y((d) => y(d[1]));
  const sline = d3.line().x((d) => x(d[0])).y((d) => s(d[1]));
  const raw = d3.line();
  const tickFs = main ? 5.8 : 6.6;
  const clipId = `clip-${idx}`;
  const hw = 1.1;
  const spikeD = p.spikes.map(([t, b, v]) => raw([[x(t) - hw, y(b)], [x(t), y(v)], [x(t) + hw, y(b)]])).join('');
  const order = [0, 1, 2, 3, 4, 5];
  return (
    <g>
      <defs>
        <clipPath id={clipId}>
          <rect x={box.x0} y={box.y0} width={box.x1 - box.x0} height={box.y1 - box.y0} />
        </clipPath>
      </defs>
      <g shapeRendering="crispEdges">
        {p.phases.map(([a, b, k], i) => (
          <rect key={i} x={x(a)} y={box.y0} width={Math.max(0, x(b) - x(a))} height={box.y1 - box.y0} fill={PHASE_COLORS[k]} />
        ))}
      </g>
      <g clipPath={`url(#${clipId})`} fill="none" strokeLinejoin="round">
        {order.map((k) => (
          <path key={k} d={line(pairs(p.series[k]))} stroke={STYLE[k].color} strokeWidth={main ? STYLE[k].width : (k === 3 ? 2.9 : 1.45)} />
        ))}
        <path d={line(pairs(p.force))} stroke={STYLE[6].color} strokeWidth={1.4} />
        <path d={spikeD} stroke={STYLE[6].color} strokeWidth={1.3} />
        <path d={line(pairs(p.accel))} stroke={STYLE[7].color} strokeWidth={STYLE[7].width} strokeDasharray={STYLE[7].dash} />
      </g>
      {main && <MainLegend />}
      <g clipPath={`url(#${clipId})`} fill="none">
        <path d={sline(pairs(p.score))} stroke="#000" strokeWidth={1.4} />
      </g>
      <rect x={box.x0} y={box.y0} width={box.x1 - box.x0} height={box.y1 - box.y0} fill="none" stroke="#3a3a3a" strokeWidth={0.8} />
      {p.xTicks.map((t) => (
        <g key={'x' + t}>
          <line x1={x(t)} x2={x(t)} y1={box.y1} y2={box.y1 + 3} stroke="#3a3a3a" strokeWidth={0.7} />
          <text x={x(t)} y={box.y1 + (main ? 10.5 : 9.2)} fontSize={tickFs} fontFamily={FONT} textAnchor="middle" fill="#333">{t}</text>
        </g>
      ))}
      {Y_TICKS.map((v) => (
        <g key={'y' + v}>
          <line x1={box.x0 - 3} x2={box.x0} y1={y(v)} y2={y(v)} stroke="#3a3a3a" strokeWidth={0.7} />
          <text x={box.x0 - 5.5} y={y(v) + 2.2} fontSize={tickFs} fontFamily={FONT} textAnchor="end" fill="#333">{fmtY(v)}</text>
        </g>
      ))}
      {SCORE_TICKS.map((v) => (
        <g key={'s' + v}>
          <line x1={box.x1} x2={box.x1 + 2.5} y1={s(v)} y2={s(v)} stroke="#3a3a3a" strokeWidth={0.7} />
          <text x={box.x1 + 3.5} y={s(v) + 2.2} fontSize={tickFs} fontFamily={FONT} textAnchor="start" fill="#333">{v}</text>
        </g>
      ))}
      {main && (
        <g>
          <rect x={878} y={199} width={46} height={13} rx={1.5} fill="#fff" fillOpacity={0.85} stroke="#cccccc" strokeWidth={0.6} />
          <line x1={881} x2={895} y1={205.5} y2={205.5} stroke="#000" strokeWidth={1.3} />
          <text x={901} y={208} fontSize={6.7} fontFamily={FONT} fill="#222">Score</text>
        </g>
      )}
    </g>
  );
}

function MainLegend() {
  const colX = [[130, 150, 157.7], [272.7, 293.3, 300]];
  const rowY = [160, 174, 188, 202];
  return (
    <g>
      <rect x={126.7} y={152.7} width={305} height={59} rx={2} fill="#fff" fillOpacity={0.82} stroke="#d0d0d0" strokeWidth={0.7} />
      {SERIES_LABELS.map((lab, i) => {
        const c = colX[Math.floor(i / 4)];
        const yy = rowY[i % 4];
        const st = STYLE[i];
        return (
          <g key={lab}>
            <line x1={c[0]} x2={c[1]} y1={yy} y2={yy} stroke={st.color} strokeWidth={st.width} strokeDasharray={st.dash} />
            <text x={c[2]} y={yy + 3.3} fontSize={9.3} fontFamily={FONT} fill="#222">{lab}</text>
          </g>
        );
      })}
    </g>
  );
}

export default function App() {
  const phaseLabelX = [132.2, 314, 690, 942];
  return (
    <svg width={1024} height={704} style={{ position: 'absolute', left: 0, top: 0, background: '#fff' }}>
      <rect x={0} y={0} width={1024} height={704} fill="#fff" />
      <Panel p={PANELS[0]} box={MAIN_BOX} idx={0} main />
      {PHASE_NAMES.map((n, i) => (
        <text key={n} x={phaseLabelX[i]} y={12.7} fontSize={11.4} fontFamily="DejaVu Serif, serif" textAnchor="middle" fill="#c0232c">{n}</text>
      ))}
      <text transform={`translate(93,116) rotate(-90)`} fontSize={10.2} fontFamily={FONT} textAnchor="middle" fill="#111">Motion Measures</text>
      <text transform={`translate(957,117) rotate(-90)`} fontSize={10.2} fontFamily={FONT} textAnchor="middle" fill="#111">Score</text>
      <text x={524} y={238} fontSize={10.2} fontFamily={FONT} textAnchor="middle" fill="#111">Time (s)</text>
      {PANELS.slice(1).map((p, i) => {
        const c = COLS[i % 3];
        const r = ROWS[Math.floor(i / 3)];
        return <Panel key={i} p={p} box={{ x0: c[0], x1: c[1], y0: r[0], y1: r[1] }} idx={i + 1} main={false} />;
      })}
    </svg>
  );
}
